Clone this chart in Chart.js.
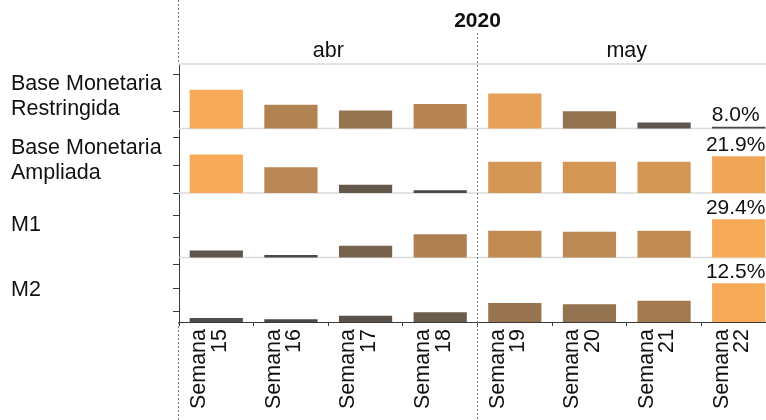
<!DOCTYPE html>
<html lang="es">
<head>
<meta charset="utf-8">
<script src="https://cdn.jsdelivr.net/npm/chart.js@4.4.1/dist/chart.umd.min.js"></script>
<style>
  html, body { margin: 0; padding: 0; overflow: hidden; background: #fff; }
  #wrap { position: relative; width: 800px; height: 420px; }
</style>
</head>
<body>
<div id="wrap"><canvas id="chart"></canvas></div>
<script>
// ---- data ----
const year = '2020';
const months = ['abr', 'may'];
const weeksPerMonth = [4, 4];
const weeks = ['15', '16', '17', '18', '19', '20', '21', '22'];

const seriesNames = [
  ['Base Monetaria', 'Restringida'],
  ['Base Monetaria', 'Ampliada'],
  ['M1'],
  ['M2']
];
// annual growth, %
const baseRestringida = [13.0, 11.0, 10.2, 11.1, 12.5, 10.1, 8.6, 8.0];
const baseAmpliada    = [22.2, 19.9, 16.8, 15.8, 20.9, 20.9, 20.9, 21.9];
const m1              = [22.3, 21.3, 23.4, 26.0, 26.8, 26.6, 26.8, 29.4];
const m2              = [9.5, 9.4, 9.7, 10.0, 10.8, 10.7, 11.0, 12.5];

// independent value axis for each row
const rowMin   = [7.64, 15.15, 20.5, 9.08];
const rowMax   = [16.36, 26.65, 35.14, 14.63];
const rowTicks = [[10, 15], [15, 20, 25], [25, 30, 35], [10, 12, 14]];

const seriesValues = [baseRestringida, baseAmpliada, m1, m2];
const weekLabels = weeks.map(w => ['Semana', w]);

// ---- styling ----
const FONT = '"Liberation Sans", Arial, Helvetica, sans-serif';
const AXIS = '#3a3a3a';
const LOW = [73, 73, 73];
const HIGH = [248, 170, 88];

// colour runs from dark grey (row minimum) to light orange (row maximum)
function shade(values, v) {
  const lo = Math.min(...values), hi = Math.max(...values);
  const t = hi > lo ? (v - lo) / (hi - lo) : 1;
  const c = LOW.map((l, i) => Math.round(l + (HIGH[i] - l) * t));
  return `rgb(${c[0]},${c[1]},${c[2]})`;
}

const rowIds = seriesValues.map((_, i) => 'row' + i);

const scales = {
  x: {
    type: 'category',
    offset: true,
    grid: { offset: true, drawOnChartArea: false, drawTicks: true, tickLength: 4, color: AXIS },
    border: { display: true, color: AXIS, width: 1 },
    ticks: {
      autoSkip: false, minRotation: 90, maxRotation: 90,
      color: '#111', padding: 3, labelOffset: -17,
      font: { family: FONT, size: 21.5, lineHeight: 0.95 }
    },
    afterFit: s => { s.height = 98; }
  }
};
rowIds.forEach((id, i) => {
  scales[id] = {
    type: 'linear',
    position: 'left',
    stack: 'rows',
    stackWeight: 1,
    weight: seriesValues.length - i,
    min: rowMin[i],
    max: rowMax[i],
    afterBuildTicks: s => { s.ticks = rowTicks[i].map(v => ({ value: v })); },
    afterFit: s => { s.width = 179; },
    ticks: { display: false },
    grid: { drawOnChartArea: false, drawTicks: true, tickLength: 6, color: AXIS, lineWidth: 1 },
    border: { display: true, color: AXIS, width: 1 }
  };
});

const decor = {
  id: 'decor',
  beforeDatasetsDraw(chart) {
    const { ctx, chartArea: ca } = chart;
    ctx.save();
    ctx.strokeStyle = '#dadada';
    ctx.lineWidth = 1.5;
    rowIds.forEach(id => {
      const s = chart.scales[id];
      ctx.beginPath();
      ctx.moveTo(ca.left, s.top);
      ctx.lineTo(ca.right, s.top);
      ctx.stroke();
    });
    ctx.restore();
  },
  afterDraw(chart) {
    const { ctx, chartArea: ca } = chart;
    const x = chart.scales.x;
    const colW = x.getPixelForValue(1) - x.getPixelForValue(0);
    const H = chart.height;
    ctx.save();

    // month spans
    const spans = [];
    let start = 0;
    weeksPerMonth.forEach(n => {
      spans.push([x.getPixelForValue(start) - colW / 2, x.getPixelForValue(start + n - 1) + colW / 2]);
      start += n;
    });

    // dashed dividers
    ctx.strokeStyle = '#7a7a7a';
    ctx.lineWidth = 1;
    ctx.setLineDash([2, 2]);
    const lx = Math.round(ca.left) - 0.5;
    ctx.beginPath();
    ctx.moveTo(lx, 0); ctx.lineTo(lx, ca.top);
    ctx.moveTo(lx, ca.bottom); ctx.lineTo(lx, H);
    for (let m = 1; m < spans.length; m++) {
      const mx = Math.round(spans[m][0]) - 0.5;
      ctx.moveTo(mx, 33); ctx.lineTo(mx, H);
    }
    ctx.stroke();
    ctx.setLineDash([]);

    // headers
    ctx.fillStyle = '#111';
    ctx.textAlign = 'center';
    ctx.textBaseline = 'alphabetic';
    ctx.font = `bold 21px ${FONT}`;
    ctx.fillText(year, (ca.left + ca.right) / 2, 26.5);
    ctx.font = `21.5px ${FONT}`;
    months.forEach((m, i) => ctx.fillText(m, (spans[i][0] + spans[i][1]) / 2, 56.5));

    // row names
    ctx.textAlign = 'left';
    ctx.textBaseline = 'middle';
    rowIds.forEach((id, i) => {
      const s = chart.scales[id];
      const cy = (s.top + s.bottom) / 2;
      const lines = seriesNames[i];
      lines.forEach((t, j) => ctx.fillText(t, 11, cy + (j - (lines.length - 1) / 2) * 25));
    });

    // value of the latest week
    ctx.textAlign = 'center';
    ctx.textBaseline = 'alphabetic';
    ctx.font = `21px ${FONT}`;
    chart.data.datasets.forEach((ds, i) => {
      const last = ds.data.length - 1;
      const el = chart.getDatasetMeta(i).data[last];
      ctx.fillText(ds.data[last].toFixed(1) + '%', el.x - 3, el.y - 4.5);
    });
    ctx.restore();
  }
};

new Chart(document.getElementById('chart'), {
  type: 'bar',
  data: {
    labels: weekLabels,
    datasets: seriesValues.map((vals, i) => ({
      label: seriesNames[i].join(' '),
      data: vals,
      yAxisID: rowIds[i],
      grouped: false,
      categoryPercentage: 0.74,
      barPercentage: 1,
      backgroundColor: ctx => shade(vals, ctx.raw),
      borderColor: 'rgba(255,255,255,0.45)',
      borderWidth: 1
    }))
  },
  options: {
    responsive: true,
    maintainAspectRatio: false,
    devicePixelRatio: 1,
    animation: false,
    layout: { padding: { top: 64, right: 24, left: 0, bottom: 0 } },
    plugins: { legend: { display: false }, tooltip: { enabled: false } },
    scales
  },
  plugins: [decor]
});
</script>
</body>
</html>
